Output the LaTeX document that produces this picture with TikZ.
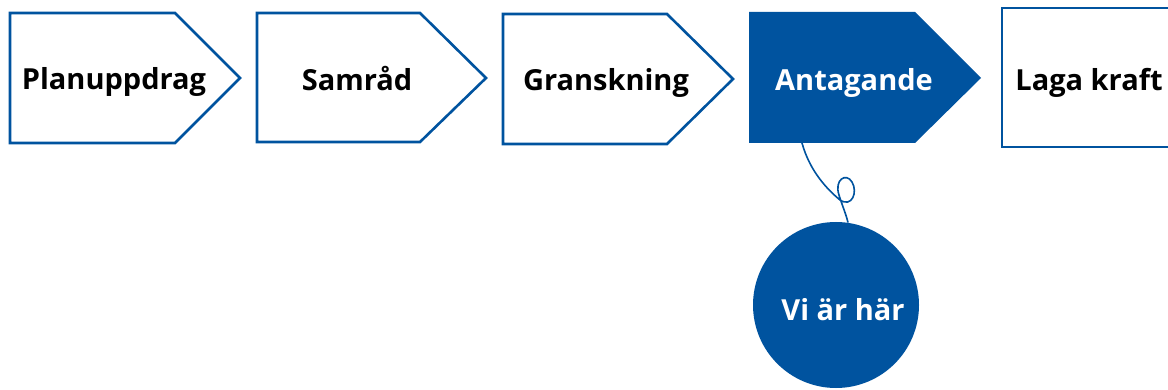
\documentclass[tikz,border=0pt]{standalone}
\usepackage{fontspec}
\setmainfont{Open Sans}
\definecolor{planblue}{RGB}{0,83,159}
\begin{document}
\begin{tikzpicture}[x=1pt,y=-1pt,
  stepshape/.style={draw=planblue,line width=2.6pt,fill=white,line join=miter},
  curshape/.style={fill=planblue,draw=none},
  steplabel/.style={font=\bfseries\fontsize{29}{33}\selectfont,text=black,inner sep=0pt,anchor=base},
  curlabel/.style={steplabel,text=white},
  herecircle/.style={circle,fill=planblue,minimum size=166pt,inner sep=0pt},
  herelabel/.style={font=\bfseries\fontsize{29}{33}\selectfont,text=white,inner sep=0pt,anchor=base},
  string/.style={draw=planblue,line width=1.6pt}]
\clip (0,0) rectangle (1168,390);
\fill[white] (0,0) rectangle (1168,390);
% step shapes
\path[stepshape] (10,13) -- (175,13) -- (240,78) -- (175,143) -- (10,143) -- cycle;
\path[stepshape] (257,13) -- (420,13) -- (486,78) -- (420,142) -- (257,142) -- cycle;
\path[stepshape] (503,14) -- (667,14) -- (733,79) -- (667,144) -- (503,144) -- cycle;
\path[curshape] (749,12) -- (915,12) -- (981,78) -- (915,143) -- (749,143) -- cycle;
\path[stepshape] (1002,8) -- (1190,8) -- (1190,147) -- (1002,147) -- cycle;
% labels
\node[steplabel] (plan) at (114,90) {Planuppdrag};
\node[steplabel] (samrad) at (357,91) {Samråd};
\node[steplabel] (gransk) at (606,91) {Granskning};
\node[curlabel] (antag) at (854,91) {Antagande};
\node[steplabel] (laga) at (1089,91) {Laga kraft};
% here marker
\coordinate (hang) at (802,143);
\node[herecircle] (here) at (836,305) {};
\node[herelabel] (herelbl) at (843,320) {Vi är här};
\coordinate (tie) at (848,222.5);
\draw[string] (hang) .. controls (810,172) and (828,190) .. (840,200)
  .. controls (852,208) and (858,192) .. (852,182)
  .. controls (846,172) and (834,180) .. (839,195)
  .. controls (842,205) and (846,214) .. (tie);
\end{tikzpicture}
\end{document}
